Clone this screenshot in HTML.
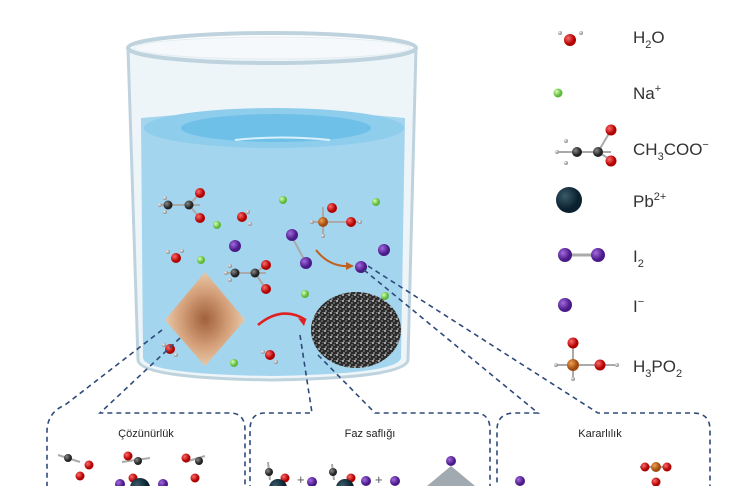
<!DOCTYPE html>
<html><head><meta charset="utf-8"><style>
body{margin:0;background:#fff}
svg{display:block}
text{font-family:"Liberation Sans",sans-serif}
</style></head><body>
<svg width="741" height="486" viewBox="0 0 741 486" xmlns="http://www.w3.org/2000/svg">
<defs>
<radialGradient id="r" cx="35%" cy="35%"><stop offset="0" stop-color="#ff6a6a"/><stop offset="1" stop-color="#b00000"/></radialGradient>
<radialGradient id="g" cx="35%" cy="35%"><stop offset="0" stop-color="#d8ffb0"/><stop offset="1" stop-color="#5cb83a"/></radialGradient>
<radialGradient id="p" cx="35%" cy="35%"><stop offset="0" stop-color="#a36ae0"/><stop offset="1" stop-color="#4a1a88"/></radialGradient>
<radialGradient id="k" cx="35%" cy="35%"><stop offset="0" stop-color="#888"/><stop offset="1" stop-color="#222"/></radialGradient>
<radialGradient id="o" cx="35%" cy="35%"><stop offset="0" stop-color="#f0a050"/><stop offset="1" stop-color="#a04a10"/></radialGradient>
<radialGradient id="b" cx="35%" cy="35%"><stop offset="0" stop-color="#3a5a6a"/><stop offset="1" stop-color="#0a2230"/></radialGradient>
<radialGradient id="h" cx="35%" cy="35%"><stop offset="0" stop-color="#fff"/><stop offset="1" stop-color="#999"/></radialGradient>
<radialGradient id="dia" cx="50%" cy="50%"><stop offset="0" stop-color="#a0603a"/><stop offset="0.6" stop-color="#d4a07a"/><stop offset="1" stop-color="#e8c8a8"/></radialGradient>
<pattern id="noise" width="6" height="6" patternUnits="userSpaceOnUse"><rect width="6" height="6" fill="#2a2a2a"/><circle cx="1" cy="1" r="1.1" fill="#aaa"/><circle cx="4" cy="3" r="0.9" fill="#888"/><circle cx="2" cy="5" r="0.8" fill="#ccc"/><circle cx="5" cy="0.5" r="0.6" fill="#999"/></pattern>
</defs>
<!-- beaker -->
<path d="M128 48 L138 360 Q140 378 270 380 Q405 378 408 360 L416 48" fill="#eef5f9" stroke="#bfd3de" stroke-width="3"/>
<path d="M141 118 Q275 105 405 118 L401 358 Q398 374 270 376 Q145 374 143 358 Z" fill="#a3d5ee"/>
<ellipse cx="274" cy="128" rx="130" ry="20" fill="#8fcdec"/>
<ellipse cx="276" cy="128" rx="95" ry="14" fill="#6ec0e8"/>
<path d="M235 140 Q280 135 330 140" stroke="#d7f0fb" stroke-width="2" fill="none"/>
<ellipse cx="272" cy="48" rx="144" ry="15" fill="none" stroke="#bfd3de" stroke-width="4"/>
<ellipse cx="272" cy="48" rx="138" ry="11" fill="#f5f9fb" stroke="#e3edf2" stroke-width="1"/>
<!-- diamond & blob -->
<polygon points="205,272 245,320 205,366 165,320" fill="url(#dia)"/>
<ellipse cx="356" cy="330" rx="45" ry="38" fill="url(#noise)"/>
<path d="M258 325 Q282 305 306 320" stroke="#e02020" stroke-width="2.5" fill="none"/>
<polygon points="306,320 298,318 304,326" fill="#e02020"/>
<path d="M316 250 Q330 268 352 266" stroke="#c06020" stroke-width="2" fill="none"/>
<polygon points="354,266 346,262 346,270" fill="#c06020"/>
<!-- molecules in beaker -->
<g stroke="#aaa" stroke-width="2">
<line x1="160" y1="205" x2="200" y2="205"/><line x1="189" y1="205" x2="200" y2="193"/><line x1="189" y1="205" x2="200" y2="218"/>
<line x1="226" y1="273" x2="266" y2="273"/><line x1="255" y1="273" x2="266" y2="265"/><line x1="255" y1="273" x2="266" y2="289"/>
<line x1="312" y1="222" x2="360" y2="222"/><line x1="323" y1="207" x2="323" y2="235"/>
<line x1="292" y1="237" x2="306" y2="263"/>
</g>
<g fill="url(#h)"><circle cx="160" cy="205" r="2"/><circle cx="165" cy="198" r="2"/><circle cx="165" cy="212" r="2"/><circle cx="248" cy="212" r="2"/><circle cx="250" cy="224" r="2"/><circle cx="168" cy="252" r="2"/><circle cx="182" cy="251" r="2"/><circle cx="226" cy="273" r="2"/><circle cx="230" cy="266" r="2"/><circle cx="230" cy="280" r="2"/><circle cx="312" cy="222" r="2"/><circle cx="360" cy="222" r="2"/><circle cx="323" cy="236" r="2"/><circle cx="164" cy="345" r="2"/><circle cx="176" cy="355" r="2"/><circle cx="263" cy="352" r="2"/><circle cx="276" cy="362" r="2"/></g>
<g fill="url(#k)"><circle cx="168" cy="205" r="4.5"/><circle cx="189" cy="205" r="4.5"/><circle cx="235" cy="273" r="4.5"/><circle cx="255" cy="273" r="4.5"/></g>
<g fill="url(#r)"><circle cx="200" cy="193" r="5"/><circle cx="200" cy="218" r="5"/><circle cx="242" cy="217" r="5"/><circle cx="176" cy="258" r="5"/><circle cx="266" cy="265" r="5"/><circle cx="266" cy="289" r="5"/><circle cx="332" cy="208" r="5"/><circle cx="351" cy="222" r="5"/><circle cx="170" cy="349" r="5"/><circle cx="270" cy="355" r="5"/></g>
<circle cx="323" cy="222" r="5" fill="url(#o)"/>
<g fill="url(#g)"><circle cx="283" cy="200" r="4"/><circle cx="217" cy="225" r="4"/><circle cx="201" cy="260" r="4"/><circle cx="376" cy="202" r="4"/><circle cx="305" cy="294" r="4"/><circle cx="385" cy="296" r="4"/><circle cx="234" cy="363" r="4"/></g>
<g fill="url(#p)"><circle cx="235" cy="246" r="6"/><circle cx="292" cy="235" r="6"/><circle cx="306" cy="263" r="6"/><circle cx="361" cy="267" r="6"/><circle cx="384" cy="250" r="6"/></g>
<!-- dashed connectors -->
<g stroke="#2e4a7a" stroke-width="1.6" stroke-dasharray="5,4" fill="none">
<path d="M162 330 L65 405 Q48 412 47 430 L47 486"/>
<path d="M180 338 L100 413 L230 413 Q245 413 245 430 L245 486"/>
<path d="M300 335 L312 413 L265 413 Q250 413 250 430 L250 486"/>
<path d="M318 355 L375 413 L475 413 Q490 413 490 430 L490 486"/>
<path d="M364 270 L538 413 L515 413 Q497 413 497 430 L497 486"/>
<path d="M368 266 L598 413 L693 413 Q710 413 710 430 L710 486"/>
</g>
<text x="146" y="437" font-size="11" text-anchor="middle" fill="#222">Çözünürlük</text>
<text x="370" y="437" font-size="11" text-anchor="middle" fill="#222">Faz saflığı</text>
<text x="600" y="437" font-size="11" text-anchor="middle" fill="#222">Kararlılık</text>
<!-- bottom partial molecules -->
<g stroke="#aaa" stroke-width="2"><line x1="58" y1="455" x2="80" y2="462"/><line x1="122" y1="462" x2="150" y2="458"/><line x1="185" y1="462" x2="205" y2="456"/><line x1="268" y1="462" x2="270" y2="480"/><line x1="332" y1="464" x2="334" y2="480"/><line x1="640" y1="467" x2="668" y2="467"/></g>
<g fill="url(#k)"><circle cx="68" cy="458" r="4"/><circle cx="138" cy="461" r="4"/><circle cx="199" cy="461" r="4"/><circle cx="269" cy="472" r="4"/><circle cx="333" cy="472" r="4"/></g>
<g fill="url(#r)"><circle cx="89" cy="465" r="4.5"/><circle cx="80" cy="476" r="4.5"/><circle cx="128" cy="456" r="4.5"/><circle cx="133" cy="478" r="4.5"/><circle cx="186" cy="458" r="4.5"/><circle cx="195" cy="478" r="4.5"/><circle cx="285" cy="478" r="4.5"/><circle cx="351" cy="478" r="4.5"/><circle cx="645" cy="467" r="4.5"/><circle cx="667" cy="467" r="4.5"/><circle cx="656" cy="482" r="4.5"/></g>
<circle cx="656" cy="467" r="5" fill="url(#o)"/>
<g fill="url(#p)"><circle cx="120" cy="484" r="5"/><circle cx="163" cy="484" r="5"/><circle cx="312" cy="482" r="5"/><circle cx="366" cy="481" r="5"/><circle cx="395" cy="481" r="5"/><circle cx="451" cy="461" r="5"/><circle cx="520" cy="481" r="5"/></g>
<circle cx="140" cy="488" r="10" fill="url(#b)"/><circle cx="278" cy="488" r="9" fill="url(#b)"/><circle cx="345" cy="488" r="9" fill="url(#b)"/>
<polygon points="451,466 475,486 427,486" fill="#a0aab0"/>
<text x="297" y="484" font-size="13" fill="#555">+</text><text x="375" y="484" font-size="13" fill="#555">+</text>
<!-- legend -->
<g stroke="#aaa" stroke-width="2"><line x1="557" y1="152" x2="611" y2="152"/><line x1="598" y1="152" x2="611" y2="130"/><line x1="598" y1="152" x2="611" y2="160"/><line x1="565" y1="255" x2="598" y2="255" stroke-width="3"/><line x1="556" y1="365" x2="617" y2="365"/><line x1="573" y1="343" x2="573" y2="378"/></g>
<g fill="url(#h)"><circle cx="560" cy="33" r="2"/><circle cx="581" cy="33" r="2"/><circle cx="557" cy="152" r="2"/><circle cx="566" cy="141" r="2"/><circle cx="566" cy="163" r="2"/><circle cx="556" cy="365" r="2"/><circle cx="617" cy="365" r="2"/><circle cx="573" cy="379" r="2"/></g>
<circle cx="570" cy="40" r="6" fill="url(#r)"/>
<circle cx="558" cy="93" r="4.5" fill="url(#g)"/>
<circle cx="577" cy="152" r="5" fill="url(#k)"/><circle cx="598" cy="152" r="5" fill="url(#k)"/>
<circle cx="611" cy="130" r="5.5" fill="url(#r)"/><circle cx="611" cy="161" r="5.5" fill="url(#r)"/>
<circle cx="569" cy="200" r="13" fill="url(#b)"/>
<circle cx="565" cy="255" r="7" fill="url(#p)"/><circle cx="598" cy="255" r="7" fill="url(#p)"/>
<circle cx="565" cy="305" r="7" fill="url(#p)"/>
<circle cx="573" cy="343" r="5.5" fill="url(#r)"/><circle cx="600" cy="365" r="5.5" fill="url(#r)"/><circle cx="573" cy="365" r="6" fill="url(#o)"/>
<g font-size="17" fill="#333">
<text x="633" y="43">H<tspan font-size="11" dy="5">2</tspan><tspan dy="-5">O</tspan></text>
<text x="633" y="99">Na<tspan font-size="11" dy="-7">+</tspan></text>
<text x="633" y="155">CH<tspan font-size="11" dy="5">3</tspan><tspan dy="-5">COO</tspan><tspan font-size="11" dy="-7">−</tspan></text>
<text x="633" y="207">Pb<tspan font-size="11" dy="-7">2+</tspan></text>
<text x="633" y="262">I<tspan font-size="11" dy="5">2</tspan></text>
<text x="633" y="312">I<tspan font-size="11" dy="-7">−</tspan></text>
<text x="633" y="372">H<tspan font-size="11" dy="5">3</tspan><tspan dy="-5">PO</tspan><tspan font-size="11" dy="5">2</tspan></text>
</g>
</svg>
</body></html>
